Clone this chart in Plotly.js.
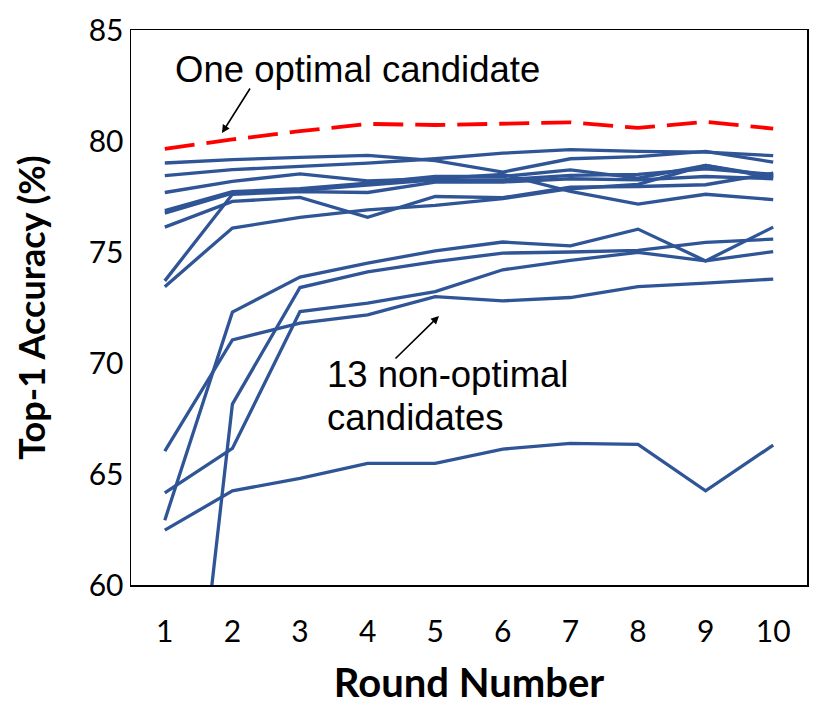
<!DOCTYPE html>
<html>
<head>
<meta charset="utf-8">
<script src="https://cdn.plot.ly/plotly-3.0.1.min.js"></script>
<style>html,body{margin:0;padding:0;background:#fff;}#chart{width:830px;height:716px;}</style>
</head>
<body>
<div id="chart"></div>
<script>
const rounds = [1, 2, 3, 4, 5, 6, 7, 8, 9, 10];
const optimal = [79.65, 80.07, 80.44, 80.77, 80.72, 80.78, 80.84, 80.59, 80.86, 80.56];
const candA = [79.01, 79.16, 79.26, 79.35, 79.12, 78.60, 79.20, 79.30, 79.53, 79.05];
const candB = [78.44, 78.71, 78.86, 79.00, 79.20, 79.45, 79.61, 79.53, 79.50, 79.34];
const candC = [77.68, 78.18, 78.52, 78.20, 78.30, 78.50, 77.73, 77.16, 77.60, 77.36];
const candD = [76.86, 77.72, 77.85, 78.10, 78.40, 78.40, 78.70, 78.33, 78.90, 78.40];
const candE = [76.75, 77.65, 77.78, 78.00, 78.25, 78.25, 78.45, 78.50, 78.75, 78.50];
const candF = [76.12, 77.28, 77.46, 76.56, 77.50, 77.45, 77.92, 77.95, 78.03, 78.55];
const candG = [73.70, 77.60, 77.72, 77.68, 78.15, 78.15, 78.30, 78.25, 78.40, 78.30];
const candH = [73.44, 76.08, 76.56, 76.90, 77.10, 77.40, 77.85, 78.05, 78.90, 78.35];
const candP = [66.03, 71.04, 71.80, 72.17, 72.99, 72.80, 72.95, 73.44, 73.60, 73.78];
const candQ = [62.92, 72.29, 73.87, 74.50, 75.05, 75.45, 75.28, 76.03, 74.60, 76.12];
const candR = [64.15, 66.15, 72.32, 72.70, 73.22, 74.20, 74.62, 74.98, 74.60, 75.02];
const candS = [41.30, 68.15, 73.40, 74.10, 74.57, 74.95, 75.00, 75.07, 75.43, 75.58];
const candT = [62.47, 64.24, 64.80, 65.48, 65.48, 66.12, 66.38, 66.33, 64.24, 66.30];
const nonOptimal = [candA, candB, candC, candD, candE, candF, candG, candH, candP, candQ, candR, candS, candT];
const yTicks = [60, 65, 70, 75, 80, 85];

const blue = '#2F5597';
const traces = nonOptimal.map(v => ({
  x: rounds, y: v, type: 'scatter', mode: 'lines',
  line: {color: blue, width: 3.3}, hoverinfo: 'skip', showlegend: false
}));
traces.push({
  x: rounds, y: optimal, type: 'scatter', mode: 'lines',
  line: {color: '#FF0000', width: 3.8, dash: '30px,12px'}, showlegend: false
});

const tickFont = {family: 'Lato, "Liberation Sans", sans-serif', size: 30, color: '#000'};
const titleFont = {family: 'Lato, "Liberation Sans", sans-serif', size: 40, color: '#000', weight: 'bold'};
const annFont = {family: '"Liberation Sans", Arial, sans-serif', size: 36.5, color: '#000'};

const layout = {
  width: 830, height: 716,
  margin: {l: 131, r: 23, t: 30, b: 131, pad: 0},
  paper_bgcolor: '#fff', plot_bgcolor: '#fff',
  xaxis: {
    range: [0.5, 10.5], tickvals: rounds, ticktext: rounds.map(String),
    showgrid: false, zeroline: false, ticks: '', showline: true, mirror: true,
    linecolor: '#000', linewidth: 1.5, tickfont: tickFont, ticklabelstandoff: 19,
    title: {text: '<b>Round Number</b>', font: titleFont, standoff: 22}
  },
  yaxis: {
    range: [60, 85], tickvals: yTicks, ticktext: yTicks.map(String),
    showgrid: false, zeroline: false, ticks: '', showline: true, mirror: true,
    linecolor: '#000', linewidth: 1.5, tickfont: tickFont, ticklabelstandoff: 0,
    title: {text: '<b>Top-1 Accuracy (%)</b>', font: {family: titleFont.family, size: 36, color: '#000', weight: 'bold'}, standoff: 32}
  },
  annotations: [
    {xref: 'x', yref: 'y', x: 1.12, y: 83.2, text: 'One optimal candidate', showarrow: false,
     xanchor: 'left', yanchor: 'middle', font: annFont},
    {xref: 'x', yref: 'y', x: 1.846, y: 80.36, text: '', showarrow: true, arrowhead: 2,
     arrowsize: 1, arrowwidth: 1.6, arrowcolor: '#000', ax: 29, ay: -46, standoff: 0},
    {xref: 'x', yref: 'y', x: 3.37, y: 69.5, text: '13 non-optimal', showarrow: false,
     xanchor: 'left', yanchor: 'middle', font: annFont},
    {xref: 'x', yref: 'y', x: 3.37, y: 67.55, text: 'candidates', showarrow: false,
     xanchor: 'left', yanchor: 'middle', font: annFont},
    {xref: 'x', yref: 'y', x: 5.056, y: 72.12, text: '', showarrow: true, arrowhead: 2,
     arrowsize: 1, arrowwidth: 1.6, arrowcolor: '#000', ax: -45, ay: 44, standoff: 0}
  ]
};

Plotly.newPlot('chart', traces, layout, {displayModeBar: false, staticPlot: true});
</script>
</body>
</html>
